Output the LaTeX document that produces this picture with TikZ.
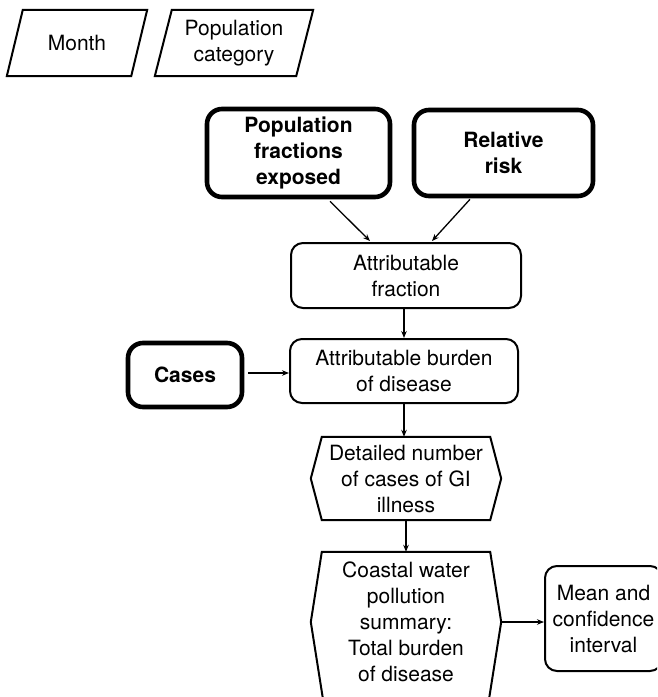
\documentclass[tikz,border=0pt]{standalone}
\usepackage{fontspec}
\setmainfont{TeX Gyre Heros}
\usetikzlibrary{calc,arrows.meta}
\begin{document}
\begin{tikzpicture}[x=1pt,y=-1pt,
  txt/.style={inner sep=0pt, align=center, font=\fontsize{21}{26}\selectfont},
  btxt/.style={inner sep=0pt, align=center, font=\fontsize{21}{26}\selectfont\bfseries},
  thinbox/.style={txt, draw, line width=2pt, rounded corners=12pt},
  thickbox/.style={btxt, draw, line width=4.6pt, rounded corners=15pt},
  outline/.style={draw, line width=2pt, line join=miter},
  arr/.style={line width=1.3pt, -{Stealth[length=7pt,width=5.5pt]}}
]
\clip (0,0) rectangle (657,697);

% input parallelograms
\node[txt, minimum width=124pt, minimum height=66pt] (month) at (77,43) {Month};
\draw[outline] ($(month.south west)+(-8,0)$) -- ($(month.north west)+(8,0)$)
  -- ($(month.north east)+(8,0)$) -- ($(month.south east)+(-8,0)$) -- cycle;

\node[txt, minimum width=141pt, minimum height=66pt] (popcat) at (234,43) {Population\\category};
\draw[outline] ($(popcat.south west)+(-8.5,0)$) -- ($(popcat.north west)+(8.5,0)$)
  -- ($(popcat.north east)+(8.5,0)$) -- ($(popcat.south east)+(-8.5,0)$) -- cycle;

% thick input boxes
\node[thickbox, minimum width=183pt, minimum height=88pt] (popf) at (298.5,153) {Population\\fractions\\exposed};
\node[thickbox, minimum width=179pt, minimum height=86pt] (rr) at (503.5,153) {Relative\\risk};
\node[thickbox, minimum width=114pt, minimum height=64pt] (cases) at (185,375) {Cases};

% process boxes
\node[thinbox, minimum width=230pt, minimum height=65pt] (af) at (406,275.5) {Attributable\\fraction};
\node[thinbox, minimum width=228pt, minimum height=64pt] (burden) at (404,371) {Attributable burden\\of disease};

% hexagon outputs
\node[txt, minimum width=190pt, minimum height=83pt] (det) at (406,478.5) {Detailed number\\of cases of GI\\illness};
\draw[outline] ($(det.north west)+(11,0)$) -- ($(det.north east)+(-11,0)$) -- (det.east)
  -- ($(det.south east)+(-11,0)$) -- ($(det.south west)+(11,0)$) -- (det.west) -- cycle;

\node[txt, minimum width=190pt, minimum height=140pt] (coast) at (406,622) {Coastal water\\pollution\\summary:\\Total burden\\of disease};
\draw[outline] ($(coast.north west)+(11,0)$) -- ($(coast.north east)+(-11,0)$) -- (coast.east)
  -- ($(coast.south east)+(-12.5,9)$) -- ($(coast.south west)+(12.5,9)$) -- (coast.west) -- cycle;

\node[thinbox, minimum width=117pt, minimum height=105pt] (mean) at (603.5,618.5) {Mean and\\confidence\\interval};

% connectors
\draw[arr] ($(popf.south)+(31.5,2)$) -- ($(af.north)+(-36,-1)$);
\draw[arr] ($(rr.south)+(-33.5,1)$) -- ($(af.north)+(26,-1)$);
\draw[arr] ($(af.south)+(-2,0)$) -- (burden.north);
\draw[arr] ($(cases.east)+(4,-2)$) -- ($(burden.west)+(0,2)$);
\draw[arr] (burden.south) -- ($(det.north)+(-2,0)$);
\draw[arr] (det.south) -- (coast.north);
\draw[arr] (coast.east) -- ($(mean.west)+(0,3.5)$);
\end{tikzpicture}
\end{document}
